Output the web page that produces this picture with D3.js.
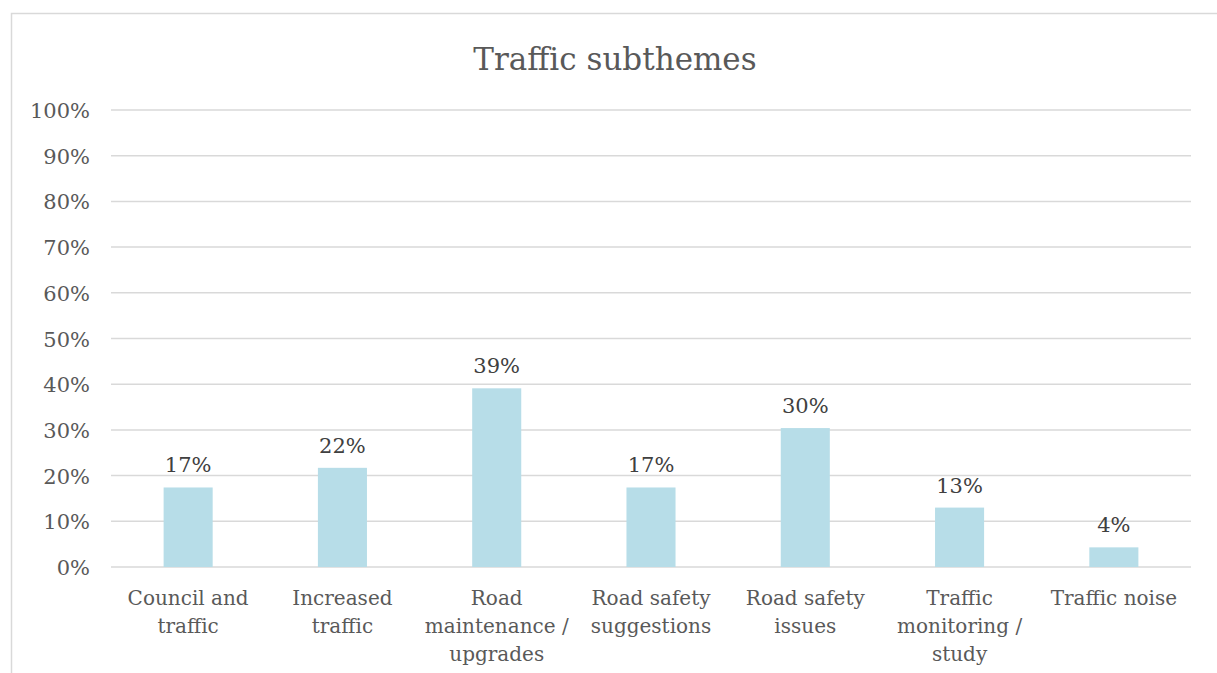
<!DOCTYPE html>
<html>
<head>
<meta charset="utf-8">
<script src="https://cdn.jsdelivr.net/npm/d3@7"></script>
<style>
  html, body { margin: 0; padding: 0; background: #fff; }
  svg { display: block; }
</style>
</head>
<body>
<svg id="chart" width="1217" height="673"></svg>
<script>
const title = "Traffic subthemes";
const categories = [
  "Council and\ntraffic",
  "Increased\ntraffic",
  "Road\nmaintenance /\nupgrades",
  "Road safety\nsuggestions",
  "Road safety\nissues",
  "Traffic\nmonitoring /\nstudy",
  "Traffic noise"
];
const values = [0.174, 0.217, 0.391, 0.174, 0.304, 0.130, 0.043];
const yTicks = [0, 0.1, 0.2, 0.3, 0.4, 0.5, 0.6, 0.7, 0.8, 0.9, 1.0];

const FONT = "'DejaVu Serif', 'Liberation Serif', serif";
const svg = d3.select("#chart");

// outer frame
svg.append("rect")
  .attr("x", 11.5).attr("y", 13.5)
  .attr("width", 1230).attr("height", 700)
  .attr("fill", "none").attr("stroke", "#d9d9d9").attr("stroke-width", 1.5);

const pLeft = 111, pRight = 1191, pTop = 110, pBottom = 567;

const x = d3.scaleBand().domain(categories).range([pLeft, pRight]).paddingInner(0.682).paddingOuter(0.341);
const y = d3.scaleLinear().domain([0, 1]).range([pBottom, pTop]);

// gridlines
svg.append("g").selectAll("line").data(yTicks).join("line")
  .attr("x1", pLeft).attr("x2", pRight)
  .attr("y1", d => y(d)).attr("y2", d => y(d))
  .attr("stroke", "#d9d9d9").attr("stroke-width", 1.5);

// y axis labels
const yAxis = d3.axisLeft(y).tickValues(yTicks).tickFormat(d3.format(".0%")).tickSize(0).tickPadding(0);
const gy = svg.append("g").attr("transform", `translate(${pLeft - 21},0)`).call(yAxis);
gy.select(".domain").remove();
gy.selectAll("text")
  .attr("font-family", FONT).attr("font-size", 21).attr("fill", "#595959")
  .attr("dy", "0.36em");

// bars
svg.append("g").selectAll("rect").data(values).join("rect")
  .attr("x", (d, i) => x(categories[i]))
  .attr("width", x.bandwidth())
  .attr("y", d => y(d))
  .attr("height", d => y(0) - y(d))
  .attr("fill", "#b7dde8");

// data labels
svg.append("g").selectAll("text").data(values).join("text")
  .attr("x", (d, i) => x(categories[i]) + x.bandwidth() / 2)
  .attr("y", d => y(d) - 15)
  .attr("text-anchor", "middle")
  .attr("font-family", FONT).attr("font-size", 21).attr("fill", "#404040")
  .text(d => d3.format(".0%")(d));

// x axis labels
const xAxis = d3.axisBottom(x).tickSize(0).tickPadding(0).tickFormat(() => "");
const gx = svg.append("g").attr("transform", `translate(0,${pBottom})`).call(xAxis);
gx.select(".domain").remove();
gx.selectAll(".tick").each(function(d) {
  const t = d3.select(this).append("text")
    .attr("text-anchor", "middle")
    .attr("font-family", FONT).attr("font-size", 20).attr("fill", "#595959");
  d.split("\n").forEach((line, k) => {
    t.append("tspan").attr("x", 0).attr("y", 38 + k * 28).text(line);
  });
});

// title
svg.append("text")
  .attr("x", 615).attr("y", 70)
  .attr("text-anchor", "middle")
  .attr("font-family", FONT).attr("font-size", 31).attr("fill", "#595959")
  .text(title);
</script>
</body>
</html>
